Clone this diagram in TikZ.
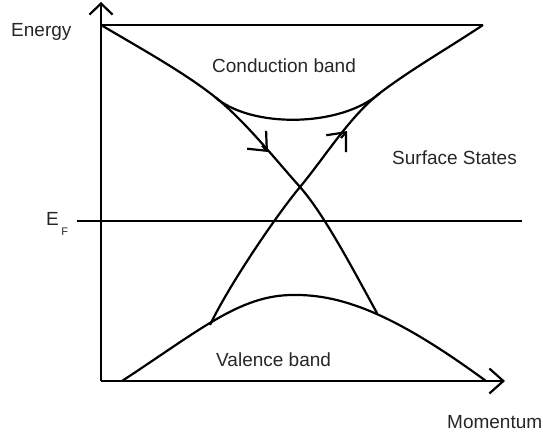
\documentclass[tikz,border=0pt]{standalone}
\usepackage{fontspec}
\setmainfont{Liberation Sans}
\usetikzlibrary{arrows.meta}
\begin{document}
\begin{tikzpicture}[x=1pt,y=-1pt,
  axis/.style={line width=2.2pt},
  band/.style={line width=2.2pt, line join=round},
  fermi/.style={line width=1.3pt},
  lbl/.style={anchor=base west, inner sep=0pt, font=\fontsize{19}{22}\selectfont, text=black!85},
  midtip/.style={band, -{Straight Barb[length=15pt,width=26pt]}}]
\useasboundingbox (0,0) rectangle (543,434);
% key points
\coordinate (O) at (101,381);
\coordinate (Ytop) at (101,2);
\coordinate (Xend) at (505,381);
\coordinate (TL) at (101,25);
\coordinate (TR) at (483,25);
\coordinate (CL) at (215,97);
\coordinate (CR) at (380,93);
\coordinate (X) at (300,187);
\coordinate (VL) at (210,325);
\coordinate (VR) at (377,313);
\coordinate (VS) at (122,381);
\coordinate (VP) at (293,295);
\coordinate (VE) at (486,381);
\coordinate (A1) at (268,152);
\coordinate (A1b) at (262,145.6);
\coordinate (A2) at (347,131);
\coordinate (A2b) at (341,138);
\coordinate (F1) at (77,221);
\coordinate (F2) at (522,221);
% axes
\draw[axis, -{Straight Barb[length=11pt,width=23pt]}] (O) -- (Ytop);
\draw[axis, -{Straight Barb[length=14pt,width=25pt]}] (O) -- (Xend);
% top line
\draw[band] (TL) -- (TR);
% Fermi level
\draw[fermi] (F1) -- (F2);
% conduction band
\draw[band] (CL) .. controls (250,128) and (340,128) .. (CR);
% valence band
\draw[band] (VS) .. controls (200,330) and (240,295) .. (VP)
            .. controls (345,294) and (400,318) .. (VE);
% surface states
\draw[band] (TL) .. controls (140,48) and (185,73) .. (CL)
            .. controls (245,121) and (275,159) .. (X)
            .. controls (325,215) and (357,277) .. (VR);
\draw[band] (TR) .. controls (450,47) and (410,70) .. (CR)
            .. controls (350,116) and (325,157) .. (X)
            .. controls (275,217) and (228,287) .. (VL);
\draw[midtip] (A1b) -- (A1);
\draw[midtip] (A2b) -- (A2);
% labels
\node[lbl] (energy) at (11,36) {Energy};
\node[lbl] (ef) at (46,225) {E\hspace{2.5pt}\raisebox{-10pt}{\fontsize{11}{12}\selectfont F}};
\node[lbl] (cb) at (212,72) {Conduction band};
\node[lbl] (ss) at (392,164) {Surface States};
\node[lbl] (vb) at (216,366) {Valence band};
\node[lbl] (mom) at (447,428) {Momentum};
\end{tikzpicture}
\end{document}
